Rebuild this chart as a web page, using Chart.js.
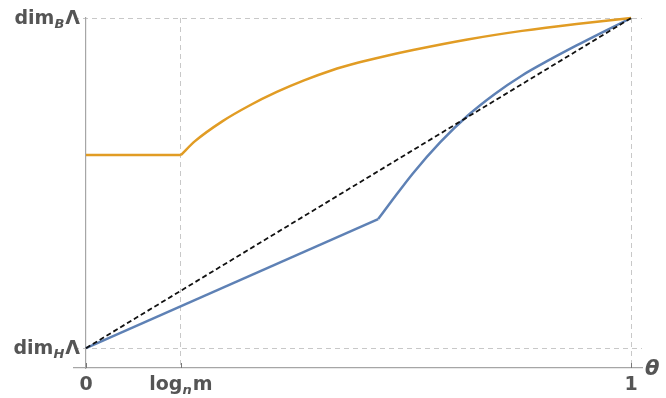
<!DOCTYPE html>
<html>
<head>
<meta charset="utf-8">
<script src="https://cdn.jsdelivr.net/npm/chart.js@4"></script>
<style>
    html, body { margin: 0; padding: 0; background: #fff; overflow: hidden; }
    #chart { display: block; }
</style>
</head>
<body>
<canvas id="chart" width="666" height="398"></canvas>
<script>
// Datos (theta normalizado, dimensión normalizada)
const logNM = 0.174;

const orangeFlat = [[0, 0.585], [logNM, 0.585]];
const orangeCurve = [
    [0.174, 0.585], [0.2, 0.627], [0.25, 0.687], [0.3, 0.735], [0.35, 0.776],
    [0.4, 0.811], [0.45, 0.841], [0.5, 0.865], [0.55, 0.885], [0.6, 0.903],
    [0.7, 0.935], [0.8, 0.961], [0.9, 0.982], [1.0, 1.0]
];

const blueLinear = [[0, 0], [0.536, 0.391]];
const blueCurve = [
    [0.536, 0.391], [0.56, 0.444], [0.6, 0.530], [0.65, 0.624], [0.7, 0.704],
    [0.75, 0.770], [0.8, 0.826], [0.85, 0.873], [0.9, 0.917], [0.95, 0.959], [1.0, 1.0]
];

const diagonal = [[0, 0], [1, 1]];

// Etiquetas de los ejes: [texto, subíndice, texto]
const xTickValues = [0, logNM, 1];
const xTickLabels = [['0', '', ''], ['log', 'n', 'm'], ['1', '', '']];
const yTickValues = [0, 1];
const yTickLabels = [['dim', 'H', 'Λ'], ['dim', 'B', 'Λ']];
const xAxisTitle = 'θ';

const COLORS = {
    blue: '#5E81B5',
    orange: '#E19C24',
    grid: '#c8c8c8',
    axis: '#a6a6a6',
    text: '#555555'
};

const FONT = '"DejaVu Sans", Verdana, sans-serif';

const toPoints = arr => arr.map(p => ({ x: p[0], y: p[1] }));

function lineSet(data, color, opts = {}) {
    return {
        data: toPoints(data),
        showLine: true,
        borderColor: color,
        backgroundColor: color,
        borderWidth: 2.5,
        pointRadius: 0,
        fill: false,
        clip: false,
        ...opts
    };
}

// Dibuja etiqueta con subíndice en cursiva
function drawLabel(ctx, parts, x, y, align) {
    const mainFont = 'bold 19px ' + FONT;
    const subFont = 'italic bold 13px ' + FONT;
    ctx.font = mainFont;
    const w0 = ctx.measureText(parts[0]).width;
    const w2 = ctx.measureText(parts[2]).width;
    ctx.font = subFont;
    const w1 = parts[1] ? ctx.measureText(parts[1]).width + 1 : 0;
    const total = w0 + w1 + w2;
    let cx = align === 'right' ? x - total : (align === 'center' ? x - total / 2 : x);
    ctx.textBaseline = 'alphabetic';
    ctx.textAlign = 'left';
    ctx.fillStyle = COLORS.text;
    ctx.font = mainFont;
    ctx.fillText(parts[0], cx, y);
    cx += w0;
    if (parts[1]) {
        ctx.font = subFont;
        ctx.fillText(parts[1], cx, y + 4);
        cx += w1;
    }
    ctx.font = mainFont;
    ctx.fillText(parts[2], cx, y);
}

const labelPlugin = {
    id: 'labelPlugin',
    afterDraw(chart) {
        const ctx = chart.ctx;
        const xs = chart.scales.x;
        const ys = chart.scales.y;
        const area = chart.chartArea;
        ctx.save();
        // marcas pequeñas sobre el eje x
        ctx.strokeStyle = '#777';
        ctx.lineWidth = 1;
        xTickValues.forEach(v => {
            const px = Math.round(xs.getPixelForValue(v)) + 0.5;
            ctx.beginPath();
            ctx.moveTo(px, area.bottom);
            ctx.lineTo(px, area.bottom - 5);
            ctx.stroke();
        });
        xTickValues.forEach((v, i) => {
            drawLabel(ctx, xTickLabels[i], xs.getPixelForValue(v), area.bottom + 22, 'center');
        });
        yTickValues.forEach((v, i) => {
            drawLabel(ctx, yTickLabels[i], xs.getPixelForValue(0) - 6, ys.getPixelForValue(v) + 6, 'right');
        });
        ctx.font = 'italic bold 21px ' + FONT;
        ctx.fillStyle = COLORS.text;
        ctx.textAlign = 'left';
        ctx.textBaseline = 'alphabetic';
        ctx.fillText(xAxisTitle, area.right + 3, area.bottom + 7);
        ctx.restore();
    }
};

new Chart(document.getElementById('chart'), {
    type: 'scatter',
    data: {
        datasets: [
            lineSet(diagonal, '#111', { borderWidth: 1.8, borderDash: [5, 3] }),
            lineSet(orangeFlat, COLORS.orange),
            lineSet(orangeCurve, COLORS.orange, { cubicInterpolationMode: 'monotone' }),
            lineSet(blueLinear, COLORS.blue),
            lineSet(blueCurve, COLORS.blue, { cubicInterpolationMode: 'monotone' })
        ]
    },
    options: {
        responsive: false,
        animation: false,
        devicePixelRatio: 1,
        layout: { padding: { left: 74, right: 24, top: 18, bottom: 30 } },
        plugins: { legend: { display: false }, tooltip: { enabled: false } },
        scales: {
            x: {
                type: 'linear',
                position: 'bottom',
                min: -0.022,
                max: 1.02,
                afterBuildTicks: s => { s.ticks = [{ value: logNM }, { value: 1 }]; },
                ticks: { display: false },
                grid: { color: COLORS.grid, drawTicks: false, lineWidth: 1 },
                border: { color: COLORS.axis, width: 1.2, dash: [5, 4] }
            },
            y: {
                type: 'linear',
                position: { x: 0 },
                min: -0.06,
                max: 1,
                afterBuildTicks: s => { s.ticks = [{ value: 0 }, { value: 1 }]; },
                ticks: { display: false },
                grid: { color: COLORS.grid, drawTicks: false, lineWidth: 1 },
                border: { color: COLORS.axis, width: 1.2, dash: [5, 4] }
            }
        }
    },
    plugins: [labelPlugin]
});
</script>
</body>
</html>
